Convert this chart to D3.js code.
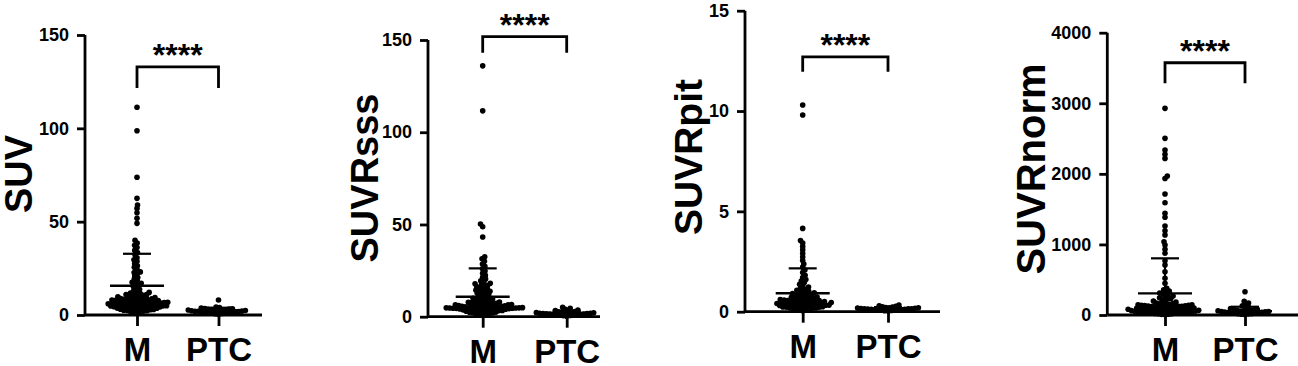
<!DOCTYPE html>
<html><head><meta charset="utf-8">
<script src="https://cdn.jsdelivr.net/npm/d3@7"></script>
<style>
body{margin:0;background:#fff}
svg{display:block}
text{font-family:"Liberation Sans",Arial,sans-serif;font-weight:bold;fill:#000}
</style></head><body>
<svg id="chart" width="1298" height="366"></svg>
<script>
// ---------- data ----------
const categories = ["M", "PTC"];
const titles = ["SUV", "SUVRsss", "SUVRpit", "SUVRnorm"];
const yTicks1 = [0, 50, 100, 150];
const yTicks2 = [0, 50, 100, 150];
const yTicks3 = [0, 5, 10, 15];
const yTicks4 = [0, 1000, 2000, 3000, 4000];
const yMax = [150, 150, 15, 4000];

const suvM = [1.2,1.6,1.9,2.3,2.6,2.9,3.1,3.3,3.6,3.8,4.0,4.2,4.3,4.5,4.7,4.8,5.0,5.1,5.3,5.4,5.6,5.8,5.9,6.1,6.2,6.4,6.6,6.7,6.9,7.1,7.2,7.4,7.6,7.7,7.9,8.2,8.4,8.5,8.8,9.0,9.3,9.5,9.8,10.1,10.4,10.6,11.0,11.3,11.7,12.1,12.6,13.1,2.1,3.4,4.1,4.9,5.5,6.3,7.0,8.0,3.0,5.2,6.8,9.2,10.9,
  1.4,2.4,3.7,4.4,5.7,6.5,7.5,8.7,9.6,11.5,2.8,4.6,6.0,7.3,8.3,
  13.8,14.5,15.3,16.0,16.8,17.5,18.3,19.2,20.1,21.0,22.2,23.1,24.5,25.6,26.4,27.5,28.8,29.6,30.7,32.2,33.5,34.6,36.1,37.4,38.6,40.0,17.0,22.8,
  49.1,51.8,54.8,57.1,58.9,62.5,73.8,98.7,111.3];
const suvPTC = [0.4,0.7,0.8,1.0,1.1,1.2,1.35,1.4,1.5,1.65,1.7,1.8,1.95,2.0,2.1,2.25,2.3,2.4,2.55,2.6,2.7,2.85,2.9,3.05,3.2,3.3,3.5,3.7,4.0,4.3,8.0];

const sssM = [0.9,1.3,1.6,2.0,2.2,2.5,2.7,3.0,3.2,3.4,3.5,3.7,3.9,4.0,4.2,4.3,4.4,4.5,4.6,4.7,4.8,4.9,5.0,5.1,5.2,5.4,5.5,5.7,5.9,6.0,6.2,6.4,6.6,6.8,7.0,7.3,7.5,7.8,8.0,8.3,8.6,8.9,9.2,9.6,10.0,2.9,3.8,4.4,4.6,4.8,5.3,6.1,6.9,1.8,3.3,5.6,7.2,
  1.1,2.4,3.6,4.5,4.7,4.9,5.8,6.5,7.7,8.8,
  10.5,11.0,11.6,12.1,12.7,13.3,13.8,14.4,15.0,15.6,16.2,16.9,17.5,18.1,18.8,19.5,20.4,21.3,22.4,23.5,24.8,26.0,27.3,28.6,30.1,31.4,32.5,14.8,16.5,17.8,12.4,13.6,
  43.2,48.8,50.2,111.6,136.0];
const sssPTC = [0.3,0.5,0.7,0.8,0.95,1.0,1.1,1.25,1.3,1.4,1.5,1.6,1.7,1.75,1.85,1.9,2.0,2.1,2.2,2.35,2.5,2.6,2.8,3.0,3.3,3.6,4.0,4.5,5.1];

const pitM = [0.05,0.1,0.12,0.15,0.18,0.2,0.22,0.24,0.27,0.29,0.3,0.32,0.34,0.36,0.38,0.4,0.42,0.44,0.46,0.48,0.5,0.52,0.54,0.56,0.58,0.6,0.63,0.66,0.68,0.7,0.73,0.76,0.8,0.83,0.86,0.9,0.94,0.98,1.02,1.07,1.12,1.17,1.23,1.3,1.37,1.45,1.53,1.6,0.35,0.45,0.55,0.25,0.62,0.72,0.88,0.41,0.5,0.31,
  0.08,0.14,0.19,0.23,0.28,0.33,0.37,0.43,0.47,0.53,0.57,0.64,0.78,0.92,1.05,0.21,0.39,
  1.7,1.82,1.95,2.08,2.22,2.38,2.55,2.72,2.9,3.08,3.25,3.42,3.55,
  4.15,9.8,10.3];
const pitPTC = [0.03,0.05,0.06,0.07,0.08,0.09,0.1,0.1,0.11,0.12,0.12,0.13,0.14,0.15,0.15,0.16,0.17,0.18,0.19,0.2,0.21,0.23,0.25,0.27,0.3,0.33];

const normM = [6,12,17,21,27,31,38,42,46,52,57,61,66,72,77,81,87,92,96,103,108,112,118,124,129,133,139,146,151,158,163,170,35,48,58,69,84,99,115,128,143,24,55,74,90,121,64,79,136,44,
  9,19,29,40,50,62,70,86,94,110,125,141,155,
  182,197,213,228,244,262,283,301,322,338,357,191,233,268,312,
  378,449,520,613,708,769,874,931,992,1038,1133,1194,1261,1384,1440,1591,1714,1935,1970,2219,2276,2337,2503,2928];
const normPTC = [8,10,14,17,20,24,27,30,33,35,38,42,45,48,50,53,55,58,60,65,68,72,76,80,90,100,115,130,150,170,195,330];

const seriesM = [suvM, sssM, pitM, normM];
const seriesPTC = [suvPTC, sssPTC, pitPTC, normPTC];
const means = [[15.7, 2.4], [10.8, 2.0], [0.92, 0.15], [307, 55]];
const sds = [[17.1, 1.5], [15.4, 1.2], [1.24, 0.08], [496, 62]];
const bracketLow = [121.6, 143.1, 11.96, 3282];
const bracketHigh = [132.9, 151.8, 12.7, 3574];
const sigLabel = ["****", "****", "****", "****"];
const yTickSets = [yTicks1, yTicks2, yTicks3, yTicks4];

// ---------- layout ----------
const layout = [
  {ax: 85,     top: 35,   bottom: 315,   xM: 137,   xP: 218.5, end: 262,  tx: 32,   ty: 174, ts: 38},
  {ax: 428,    top: 40,   bottom: 316.7, xM: 482.7, xP: 566.7, end: 600,  tx: 378,  ty: 178, ts: 38},
  {ax: 745,    top: 10.7, bottom: 311.7, xM: 802.7, xP: 888,   end: 940,  tx: 702,  ty: 157, ts: 39},
  {ax: 1107.3, top: 32.7, bottom: 315,   xM: 1165,  xP: 1245,  end: 1298, tx: 1045, ty: 169, ts: 40}
];
const R = 2.8, D = 3.4;

function swarm(vals, y, cx) {
  const pts = vals.map((v, i) => ({v, y: y(v), i})).sort((a, b) => b.y - a.y);
  const placed = [];
  pts.forEach((p, k) => {
    const cands = [0];
    for (const q of placed) {
      const dy = Math.abs(q.y - p.y);
      if (dy < D) { const dx = Math.sqrt(D * D - dy * dy); cands.push(q.dx + dx, q.dx - dx); }
    }
    const sgn = k % 2 ? 1 : -1;
    cands.sort((a, b) => (Math.abs(a) - Math.abs(b)) || (sgn * (a - b)));
    for (const c of cands) {
      if (placed.every(q => { const dx = q.dx - c, dy = q.y - p.y; return dx * dx + dy * dy >= D * D - 1e-6; })) { p.dx = c; break; }
    }
    if (p.dx === undefined) p.dx = 0;
    placed.push(p);
  });
  return placed.map(p => ({x: cx + p.dx, y: p.y}));
}

const svg = d3.select("#chart");

layout.forEach((L, pi) => {
  const g = svg.append("g");
  const y = d3.scaleLinear().domain([0, yMax[pi]]).range([L.bottom, L.top]);
  const x = d3.scalePoint().domain(categories).range([L.xM, L.xP]);

  // y axis
  const yAxis = d3.axisLeft(y).tickValues(yTickSets[pi]).tickSize(8).tickPadding(8).tickFormat(d3.format("d"));
  const ya = g.append("g").attr("transform", `translate(${L.ax},0)`).call(yAxis);
  ya.select(".domain").attr("d", `M0,${L.top}V${L.bottom}`).attr("stroke", "#000").attr("stroke-width", 2.8);
  ya.selectAll(".tick line").attr("stroke", "#000").attr("stroke-width", 2.8);
  ya.selectAll(".tick text").style("font-size", "18px").attr("fill", "#000");

  // x axis
  const xAxis = d3.axisBottom(x).tickSize(11).tickPadding(12);
  const xa = g.append("g").attr("transform", `translate(0,${L.bottom})`).call(xAxis);
  xa.select(".domain").attr("d", `M${L.ax},0H${L.end}`).attr("stroke", "#000").attr("stroke-width", 2.8);
  xa.selectAll(".tick line").attr("stroke", "#000").attr("stroke-width", 2.8);
  xa.selectAll(".tick text").style("font-size", "33px").attr("fill", "#000");

  // title
  g.append("text").attr("transform", `translate(${L.tx},${L.ty}) rotate(-90)`)
    .attr("text-anchor", "middle").style("font-size", L.ts + "px").text(titles[pi]);

  // dots
  [seriesM[pi], seriesPTC[pi]].forEach((vals, ci) => {
    const pts = swarm(vals, y, x(categories[ci]));
    g.append("g").selectAll("circle").data(pts).join("circle")
      .attr("cx", d => d.x).attr("cy", d => d.y).attr("r", R).attr("fill", "#000");
  });

  // mean & SD
  categories.forEach((c, ci) => {
    const cx = x(c), m = means[pi][ci], s = sds[pi][ci];
    const lo = Math.max(0, m - s);
    g.append("line").attr("x1", cx).attr("x2", cx).attr("y1", y(lo)).attr("y2", y(m + s)).attr("stroke", "#000").attr("stroke-width", 2);
    g.append("line").attr("x1", cx - 27).attr("x2", cx + 27).attr("y1", y(m)).attr("y2", y(m)).attr("stroke", "#000").attr("stroke-width", 2.4);
    g.append("line").attr("x1", cx - 14).attr("x2", cx + 14).attr("y1", y(m + s)).attr("y2", y(m + s)).attr("stroke", "#000").attr("stroke-width", 2.2);
    if (m - s > 0) g.append("line").attr("x1", cx - 14).attr("x2", cx + 14).attr("y1", y(lo)).attr("y2", y(lo)).attr("stroke", "#000").attr("stroke-width", 2.2);
  });

  // significance bracket
  const bl = y(bracketLow[pi]), bh = y(bracketHigh[pi]);
  g.append("path").attr("d", `M${x("M")},${bl}V${bh}H${x("PTC")}V${bl}`)
    .attr("fill", "none").attr("stroke", "#000").attr("stroke-width", 2.8);
  g.append("text").attr("x", (x("M") + x("PTC")) / 2).attr("y", bh - 1)
    .attr("text-anchor", "middle").style("font-size", "32px").text(sigLabel[pi]);
});
</script>
</body></html>
